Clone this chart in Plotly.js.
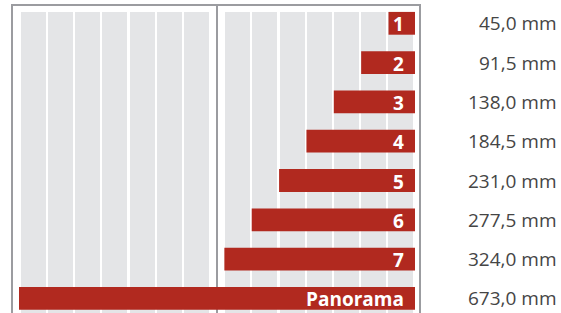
<!DOCTYPE html>
<html>
<head>
<meta charset="utf-8">
<script src="https://cdn.plot.ly/plotly-3.0.1.min.js"></script>
<style>html,body{margin:0;padding:0;background:#fff}#chart{width:561px;height:313px}</style>
</head>
<body>
<div id="chart"></div>
<script>
var categories = ["1", "2", "3", "4", "5", "6", "7", "Panorama"];
var valuesMm = [45.0, 91.5, 138.0, 184.5, 231.0, 277.5, 324.0, 673.0];
var valueLabels = valuesMm.map(function (v) { return v.toFixed(1).replace('.', ',') + ' mm'; });

var W = 561, H = 313, ML = 19, MR = 146;
var PW = W - ML - MR;
function px(x) { return (x - ML) / PW; }
function py(y) { return 1 - y / H; }

var shapes = [];
// background stripes
var stripeStarts = [21, 48, 75, 102, 130, 157, 184, 225, 252, 280, 307, 334, 361, 388];
stripeStarts.forEach(function (s) {
  shapes.push({type: 'rect', xref: 'paper', yref: 'paper', x0: px(s), x1: px(s + 25), y0: py(313), y1: py(12),
    fillcolor: '#e4e5e7', line: {width: 0}, layer: 'below'});
});
// frame
var fc = '#9b9ca0';
shapes.push({type: 'line', xref: 'paper', yref: 'paper', x0: px(12), x1: px(12), y0: py(4), y1: py(313), line: {color: fc, width: 2}, layer: 'below'});
shapes.push({type: 'line', xref: 'paper', yref: 'paper', x0: px(11), x1: px(421), y0: py(5), y1: py(5), line: {color: fc, width: 2}, layer: 'below'});
shapes.push({type: 'line', xref: 'paper', yref: 'paper', x0: px(217), x1: px(217), y0: py(5), y1: py(313), line: {color: fc, width: 2}, layer: 'below'});
shapes.push({type: 'line', xref: 'paper', yref: 'paper', x0: px(420), x1: px(420), y0: py(4), y1: py(313), line: {color: fc, width: 2}, layer: 'below'});

var annotations = [];
categories.forEach(function (c, i) {
  annotations.push({x: 0, y: i, xref: 'x', yref: 'y', text: c, showarrow: false, xanchor: 'right', xshift: -9, yshift: -1,
    font: {family: 'Open Sans, sans-serif', size: 19, color: '#ffffff', weight: 700}});
  annotations.push({x: px(559), y: i, xref: 'paper', yref: 'y', text: valueLabels[i], showarrow: false, xanchor: 'right',
    font: {family: 'Open Sans, sans-serif', size: 19, color: '#454545'}});
});

var trace = {
  type: 'bar', orientation: 'h', x: valuesMm, y: categories, width: 0.58,
  marker: {color: '#b1291f', line: {width: 0}}, hoverinfo: 'none'
};

var layout = {
  width: W, height: H,
  margin: {l: ML, r: MR, t: 0, b: 0, pad: 0},
  paper_bgcolor: '#ffffff', plot_bgcolor: 'rgba(0,0,0,0)',
  showlegend: false,
  xaxis: {range: [673, 0], visible: false, fixedrange: true},
  yaxis: {type: 'category', categoryorder: 'array', categoryarray: categories, range: [7.371, -0.593], visible: false, fixedrange: true},
  shapes: shapes, annotations: annotations
};

Plotly.newPlot('chart', [trace], layout, {displayModeBar: false, staticPlot: true});
</script>
</body>
</html>
